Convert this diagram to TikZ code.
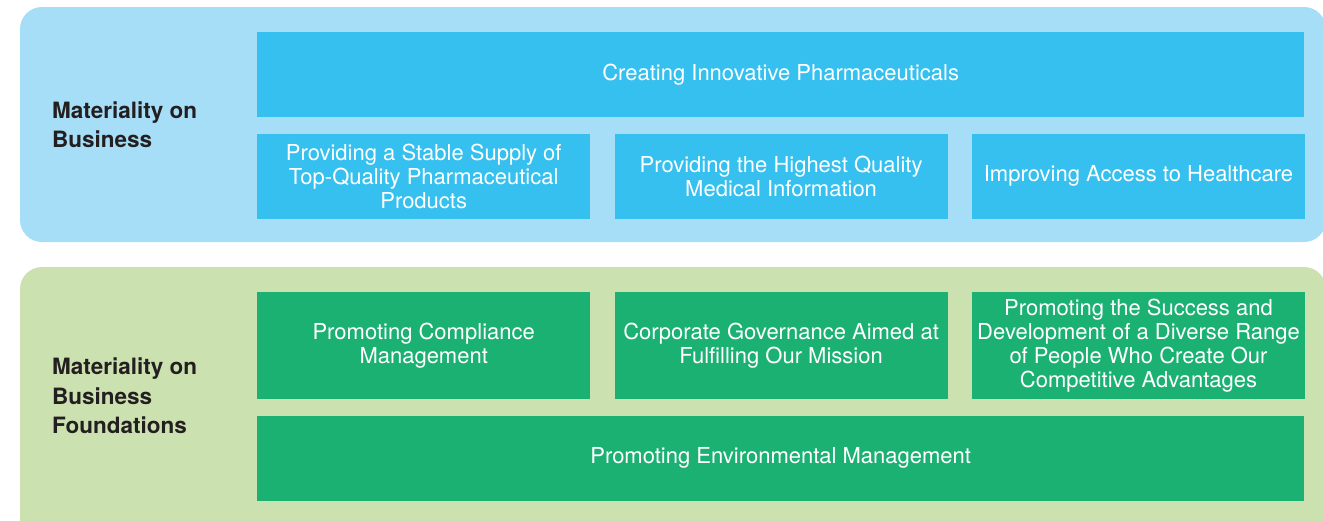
\documentclass[tikz,border=0pt]{standalone}
\usepackage{fontspec}
\setmainfont{TeX Gyre Heros}
\usepackage{xcolor}
\usepackage{tikz}
\usetikzlibrary{positioning}

\definecolor{bizpanel}{HTML}{A6DDF7}
\definecolor{bizcell}{HTML}{35C0EF}
\definecolor{basepanel}{HTML}{CBE2B0}
\definecolor{basecell}{HTML}{1BB172}
\definecolor{inkdark}{HTML}{231F20}

\tikzset{
  cell/.style={anchor=north west, inner sep=0pt, align=center,
               text=white, font=\fontsize{22}{24}\selectfont,
               minimum width=333pt, minimum height=85pt},
  bizbox/.style={cell, fill=bizcell},
  basebox/.style={cell, fill=basecell},
  panel/.style={rounded corners=22pt},
  heading/.style={anchor=west, align=left, inner sep=0pt, text=inkdark,
                  font=\fontsize{22.5}{29.5}\selectfont\bfseries},
}

\begin{document}
\begin{tikzpicture}[x=1pt, y=-1pt]
  \useasboundingbox (0,0) rectangle (1323,520);
  \clip (0,0) rectangle (1323,520);
  % panels
  \fill[panel, bizpanel] (20,7) rectangle (1326,242);
  \fill[panel, basepanel] (20,267) rectangle (1326,548);
  % business
  \node[heading] (bizhead) at (52,124.5) {Materiality on\\Business};
  \node[bizbox, minimum width=1047pt] (innov) at (257,32)
    {Creating Innovative Pharmaceuticals};
  \node[bizbox, below=16pt of innov.south west, anchor=north west] (supply)
    {Providing a Stable Supply of\\Top-Quality Pharmaceutical\\Products};
  \node[bizbox, right=24pt of supply] (medinfo)
    {Providing the Highest Quality\\Medical Information};
  \node[bizbox, right=24pt of medinfo] (access)
    {Improving Access to Healthcare};
  % business foundations
  \node[heading] (basehead) at (52,396)
    {Materiality on\\Business\\Foundations};
  \node[basebox, minimum height=107pt] (comply) at (257,292)
    {Promoting Compliance\\Management};
  \node[basebox, minimum height=107pt, right=24pt of comply] (govern)
    {Corporate Governance Aimed at\\Fulfilling Our Mission};
  \node[basebox, minimum height=107pt, right=24pt of govern] (people)
    {Promoting the Success and\\Development of a Diverse Range\\of People Who Create Our\\Competitive Advantages};
  \node[basebox, minimum width=1047pt, below=16pt of comply.south west,
        anchor=north west] (enviro)
    {Promoting Environmental Management};
\end{tikzpicture}
\end{document}
